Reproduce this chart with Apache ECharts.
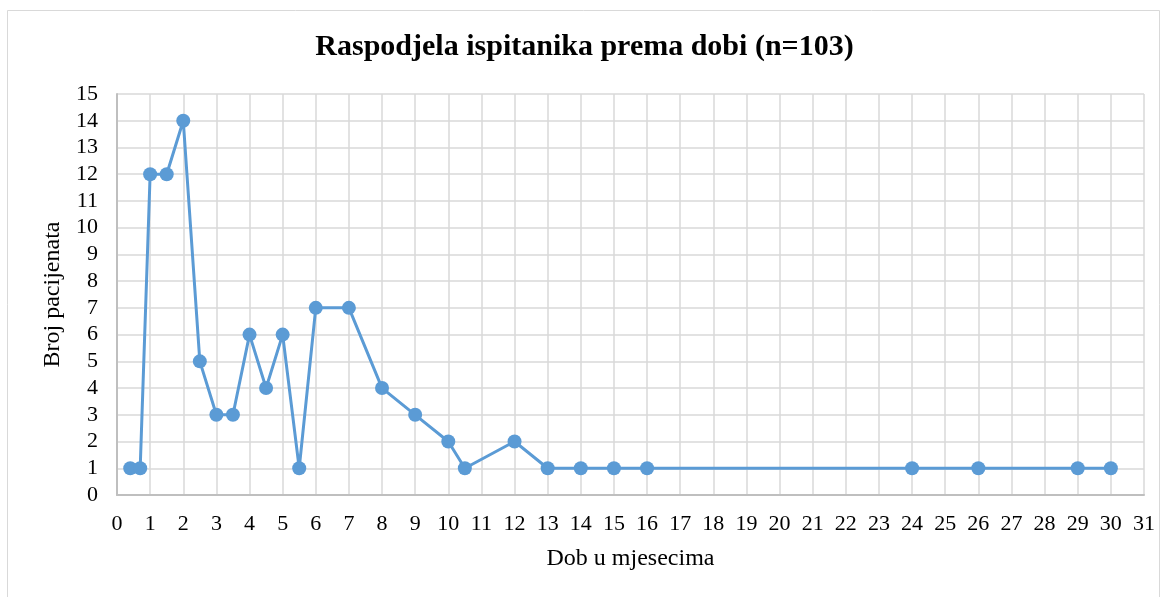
<!DOCTYPE html>
<html>
<head>
<meta charset="utf-8">
<script src="https://cdn.jsdelivr.net/npm/echarts@6/dist/echarts.min.js"></script>
<style>
  html, body { margin: 0; padding: 0; background: #fff; }
  #chart { width: 1169px; height: 597px; }
</style>
</head>
<body>
<div id="chart"></div>
<script>
// dob u mjesecima i broj pacijenata
const ages = [0.4, 0.7, 1, 1.5, 2, 2.5, 3, 3.5, 4, 4.5, 5, 5.5, 6, 7, 8, 9, 10, 10.5, 12, 13, 14, 15, 16, 24, 26, 29, 30];
const counts = [1, 1, 12, 12, 14, 5, 3, 3, 6, 4, 6, 1, 7, 7, 4, 3, 2, 1, 2, 1, 1, 1, 1, 1, 1, 1, 1];

const chart = echarts.init(document.getElementById("chart"));
const serif = "'Liberation Serif', 'DejaVu Serif', serif";

chart.setOption({
  animation: false,
  backgroundColor: "#ffffff",
  title: {
    text: "Raspodjela ispitanika prema dobi (n=103)",
    left: "center",
    top: 27,
    textStyle: { fontFamily: serif, fontSize: 30, fontWeight: "bold", color: "#000" },
  },
  graphic: [
    {
      type: "rect",
      shape: { x: 7.5, y: 10.5, width: 1152, height: 600 },
      style: { fill: "none", stroke: "#d9d9d9", lineWidth: 1 },
      silent: true,
    },
  ],
  grid: { left: 117, right: 25, top: 94, bottom: 102 },
  xAxis: {
    type: "value",
    min: 0,
    max: 31,
    interval: 1,
    name: "Dob u mjesecima",
    nameLocation: "middle",
    nameGap: 52,
    nameTextStyle: { fontFamily: serif, fontSize: 24, color: "#000" },
    axisLine: { show: true, lineStyle: { color: "#bfbfbf", width: 2 } },
    axisTick: { show: false },
    axisLabel: { fontFamily: serif, fontSize: 22, color: "#000", margin: 18 },
    splitLine: { show: true, lineStyle: { color: "#d9d9d9", width: 1.5 } },
  },
  yAxis: {
    type: "value",
    min: 0,
    max: 15,
    interval: 1,
    name: "Broj pacijenata",
    nameLocation: "middle",
    nameGap: 47,
    nameTextStyle: { fontFamily: serif, fontSize: 24, color: "#000" },
    axisLine: { show: true, lineStyle: { color: "#bfbfbf", width: 2 } },
    axisTick: { show: false },
    axisLabel: { fontFamily: serif, fontSize: 22, color: "#000", margin: 19 },
    splitLine: { show: true, lineStyle: { color: "#d9d9d9", width: 1.5 } },
  },
  series: [
    {
      type: "line",
      data: ages.map((a, i) => [a, counts[i]]),
      symbol: "circle",
      symbolSize: 14,
      lineStyle: { color: "#5b9bd5", width: 3 },
      itemStyle: { color: "#5b9bd5" },
    },
  ],
});
</script>
</body>
</html>
